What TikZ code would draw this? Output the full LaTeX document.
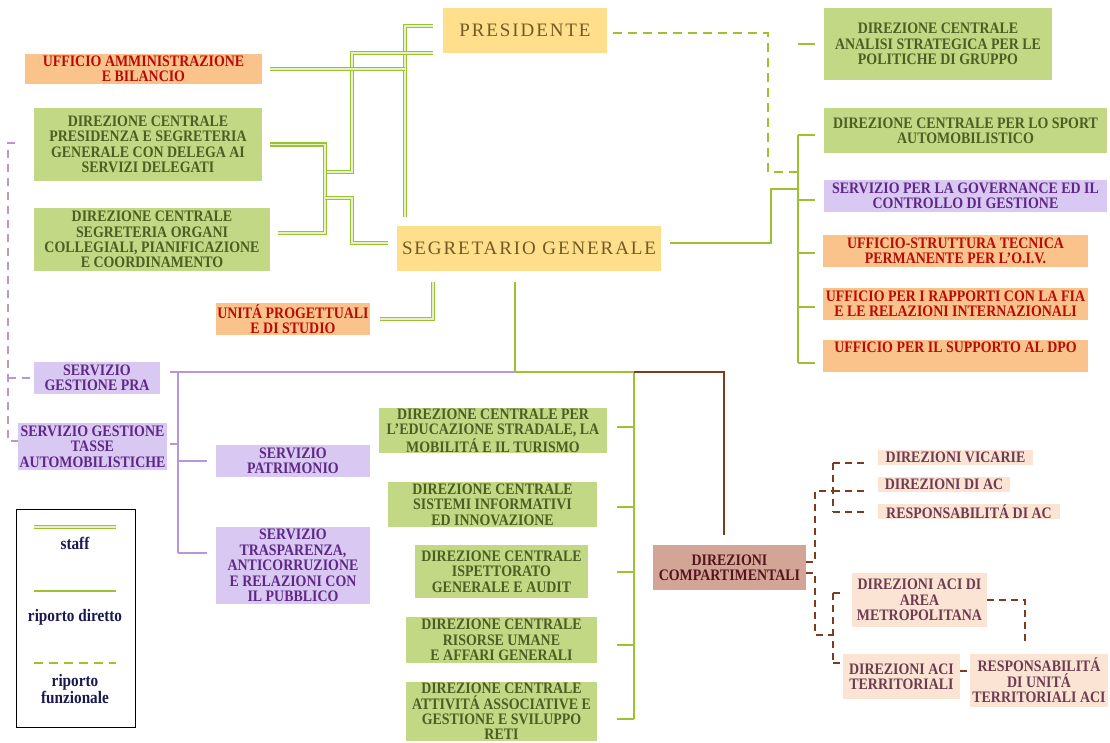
\documentclass[tikz,border=0pt]{standalone}
\usepackage{fontspec}
\setmainfont{Liberation Serif}
\newfontfamily\spacedserif[LetterSpace=10]{Liberation Serif}
\newfontfamily\boxserif[FakeStretch=0.87]{Liberation Serif}
\usetikzlibrary{calc}
\definecolor{gfill}{RGB}{195,216,132}
\definecolor{gtext}{RGB}{75,95,35}
\definecolor{ofill}{RGB}{250,195,140}
\definecolor{otext}{RGB}{185,10,10}
\definecolor{lfill}{RGB}{216,200,242}
\definecolor{ltext}{RGB}{95,40,135}
\definecolor{yfill}{RGB}{255,223,140}
\definecolor{ytext}{RGB}{115,90,35}
\definecolor{cfill}{RGB}{210,165,150}
\definecolor{ctext}{RGB}{85,20,30}
\definecolor{pfill}{RGB}{252,228,212}
\definecolor{ptext}{RGB}{110,60,80}
\definecolor{gline}{RGB}{155,195,45}
\definecolor{pline}{RGB}{185,150,215}
\definecolor{bline}{RGB}{125,60,30}
\definecolor{legtext}{RGB}{25,25,80}
\newcommand\boxfont{\boxserif\fontsize{16}{15.4}\selectfont\bfseries}
\newcommand\topfont{\spacedserif\fontsize{19}{22}\selectfont}
\newcommand\mkbox[7]{\node[#6, minimum width={#4-#2}, minimum height={#5-#3}] (#1) at ({(#2+#4)/2},{(#3+#5)/2}) {#7};}
\begin{document}
\begin{tikzpicture}[x=1pt,y=-1pt,
  bx/.style={inner sep=0pt, outer sep=0pt, align=center, font=\boxfont},
  gbox/.style={bx, fill=gfill, text=gtext},
  obox/.style={bx, fill=ofill, text=otext},
  lbox/.style={bx, fill=lfill, text=ltext},
  ybox/.style={inner sep=0pt, outer sep=0pt, fill=yfill, text=ytext, font=\topfont},
  cbox/.style={bx, fill=cfill, text=ctext},
  pbox/.style={bx, fill=pfill, text=ptext},
  staff/.style={draw=gline, line width=1.3pt, double=gline!25, double distance=1.5pt},
  direct/.style={draw=gline, line width=2.2pt},
  gdash/.style={draw=gline, line width=2.2pt, dash pattern=on 9pt off 6pt},
  purp/.style={draw=pline, line width=2pt},
  purpdash/.style={draw=pline, line width=1.8pt, dash pattern=on 8pt off 6pt},
  brn/.style={draw=bline, line width=2pt},
  bdash/.style={draw=bline, line width=2pt, dash pattern=on 7pt off 5pt},
  legtxt/.style={inner sep=0pt, align=center, text=legtext, font=\boxserif\fontsize{17.5}{17}\selectfont\bfseries}
]
\useasboundingbox (0,0) rectangle (1110,742);
\fill[white] (0,0) rectangle (1110,742);

% ---------- boxes ----------
\mkbox{pres}{443}{8}{607}{53}{ybox}{PRESIDENTE}
\mkbox{segr}{397}{226}{661}{271}{ybox}{SEGRETARIO GENERALE}
\mkbox{uff}{25}{54}{262}{84}{obox}{UFFICIO AMMINISTRAZIONE\\E BILANCIO}
\mkbox{dcpres}{34}{108}{262}{181}{gbox}{DIREZIONE CENTRALE\\PRESIDENZA E SEGRETERIA\\GENERALE CON DELEGA AI\\SERVIZI DELEGATI}
\mkbox{dcsegr}{34}{208}{270}{271}{gbox}{DIREZIONE CENTRALE\\SEGRETERIA ORGANI\\COLLEGIALI, PIANIFICAZIONE\\E COORDINAMENTO}
\mkbox{unita}{216}{303}{370}{335}{obox}{UNITÁ PROGETTUALI\\E DI STUDIO}
\mkbox{anal}{824}{8}{1052}{80}{gbox}{DIREZIONE CENTRALE\\ANALISI STRATEGICA PER LE\\POLITICHE DI GRUPPO}
\mkbox{sport}{824}{108}{1107}{153}{gbox}{DIREZIONE CENTRALE PER LO SPORT\\AUTOMOBILISTICO}
\mkbox{gov}{824}{180}{1107}{212}{lbox}{SERVIZIO PER LA GOVERNANCE ED IL\\CONTROLLO DI GESTIONE}
\mkbox{oiv}{823}{235}{1088}{267}{obox}{UFFICIO-STRUTTURA TECNICA\\PERMANENTE PER L’O.I.V.}
\mkbox{fia}{823}{288}{1088}{320}{obox}{UFFICIO PER I RAPPORTI CON LA FIA\\E LE RELAZIONI INTERNAZIONALI}
\mkbox{dpo}{823}{340}{1088}{372}{obox}{UFFICIO PER IL SUPPORTO AL DPO\\[3pt]}
\mkbox{pra}{34}{362}{160}{394}{lbox}{SERVIZIO\\GESTIONE PRA}
\mkbox{tasse}{18}{423}{167}{470}{lbox}{SERVIZIO GESTIONE\\TASSE\\AUTOMOBILISTICHE}
\mkbox{patr}{216}{445}{370}{477}{lbox}{SERVIZIO\\PATRIMONIO}
\mkbox{trasp}{216}{527}{370}{604}{lbox}{SERVIZIO\\TRASPARENZA,\\ANTICORRUZIONE\\E RELAZIONI CON\\IL PUBBLICO}
\mkbox{edu}{379}{408}{607}{453}{gbox}{DIREZIONE CENTRALE PER\\L’EDUCAZIONE STRADALE, LA\\MOBILITÁ E IL TURISMO}
\mkbox{sist}{388}{482}{597}{527}{gbox}{DIREZIONE CENTRALE\\SISTEMI INFORMATIVI\\ED INNOVAZIONE}
\mkbox{isp}{415}{545}{588}{598}{gbox}{DIREZIONE CENTRALE\\ISPETTORATO\\GENERALE E AUDIT}
\mkbox{ris}{406}{617}{597}{663}{gbox}{DIREZIONE CENTRALE\\RISORSE UMANE\\E AFFARI GENERALI}
\mkbox{att}{406}{682}{597}{741}{gbox}{DIREZIONE CENTRALE\\ATTIVITÁ ASSOCIATIVE E\\GESTIONE E SVILUPPO\\RETI}
\mkbox{comp}{653}{545}{806}{590}{cbox}{DIREZIONI\\COMPARTIMENTALI}
\mkbox{vic}{878}{450}{1033}{465}{pbox}{DIREZIONI VICARIE}
\mkbox{dac}{878}{477}{1010}{492}{pbox}{DIREZIONI DI AC}
\mkbox{rac}{878}{504}{1060}{519}{pbox}{RESPONSABILITÁ DI AC}
\mkbox{metro}{852}{573}{987}{627}{pbox}{DIREZIONI ACI DI\\AREA\\METROPOLITANA}
\mkbox{terr}{843}{654}{960}{699}{pbox}{DIREZIONI ACI\\TERRITORIALI}
\mkbox{resp}{970}{654}{1108}{707}{pbox}{RESPONSABILITÁ\\DI UNITÁ\\TERRITORIALI ACI}

% ---------- staff connectors ----------
\coordinate (a1) at (405,26);
\coordinate (a2) at (352,53);
\coordinate (a3) at (352,172);
\coordinate (a4) at (325,172);
\coordinate (a5) at (325,144.5);
\coordinate (a6) at (325,233);
\coordinate (a7) at (325,198);
\coordinate (a8) at (352,198);
\coordinate (a9) at (352,243);
\coordinate (a11) at (433,271);
\draw[staff, shorten <=10pt, shorten >=9pt] (pres.west |- a1) -- (a1) -- (a1 |- segr.north);
\draw[staff, shorten <=10pt] (pres.west |- a2) -- (a2) -- (a3) -- (a4);
\draw[staff, shorten <=8pt] (uff.east) -- (uff.east -| a1);
\draw[staff, shorten <=8pt, shorten >=8pt] (dcpres.east) -- (a5) -- (a6) -- (dcsegr.east |- a6);
\draw[staff, shorten >=9pt] (a7) -- (a8) -- (a9) -- (segr.west |- a9);
\draw[staff, shorten <=10pt, shorten >=11pt] (unita.east) -| (a11);

% ---------- direct connectors (right) ----------
\coordinate (b1) at (771,243);
\coordinate (b2) at (771,189);
\coordinate (b3) at (798,189);
\draw[direct, shorten <=9pt] ($(segr.east)+(0,-5.5)$) -- (b1) -- (b2) -- (b3);
\coordinate (r1) at (798,135);
\coordinate (r2) at (798,200);
\coordinate (r3) at (798,253);
\coordinate (r4) at (798,307);
\coordinate (r5) at (798,363);
\draw[direct] (r1) -- (r5);
\draw[direct, shorten >=9pt] (r1) -- ($(sport.west)+(0,4.5)$);
\draw[direct, shorten >=9pt] (r2) -- ($(gov.west)+(0,4)$);
\draw[direct, shorten >=8pt] (r3) -- ($(oiv.west)+(0,2)$);
\draw[direct, shorten >=8pt] (r4) -- ($(fia.west)+(0,3)$);
\draw[direct, shorten >=8pt] (r5) -- ($(dpo.west)+(0,7)$);

% ---------- green dashed from PRESIDENTE ----------
\coordinate (t1) at (768,33);
\coordinate (t2) at (768,172);
\coordinate (t3) at (798,172);
\coordinate (t4) at (798,44);
\draw[gdash, shorten <=6pt] ($(pres.east)+(0,2.5)$) -- (t1) -- (t2) -- (t3);
\draw[draw=gline, line width=2.2pt, shorten >=9pt] (t4) -- (anal.west);

% ---------- direct connectors (down) ----------
\coordinate (m1) at (515,372);
\coordinate (m2) at (634,372);
\coordinate (n1) at (634,719);
\draw[direct, shorten <=11pt] ($(segr.south)+(-14,0)$) -- (m1) -- (m2);
\draw[direct] (m2) -- (n1);
\draw[direct, shorten >=10pt] (634,427) coordinate (s1) -- ($(edu.east)+(0,-3.5)$);
\draw[direct, shorten >=20pt] (634,507) coordinate (s2) -- ($(sist.east)+(0,2.5)$);
\draw[direct, shorten >=29pt] (634,572) coordinate (s3) -- ($(isp.east)+(0,0.5)$);
\draw[direct, shorten >=20pt] (634,645) coordinate (s4) -- ($(ris.east)+(0,5)$);
\draw[direct, shorten >=20pt] (n1) -- ($(att.east)+(0,7.5)$);

% ---------- purple ----------
\coordinate (q1) at (178,372);
\coordinate (q2) at (178,553);
\coordinate (q3) at (178,461);
\draw[purp, shorten >=10pt] (m1) -- (pra.east |- m1);
\draw[purp] (q1) -- (q2);
\draw[purp, shorten >=9pt] (q3) -- (patr.west);
\draw[purp, shorten >=9pt] (q2) -- ($(trasp.west)+(0,-12.5)$);
\draw[purp, shorten <=3pt] ($(tasse.east)+(0,-2.5)$) -- ($(tasse.east -| q1)+(0,-2.5)$);

% ---------- purple dashed ----------
\coordinate (d1) at (8,143);
\coordinate (d2) at (8,441);
\draw[purpdash, shorten <=19pt] ($(dcpres.west)+(0,-1.5)$) -- (d1) -- (d2) -- ($(tasse.west)+(0,-5.5)$);
\draw[purpdash, shorten >=2pt] (d1 |- pra.west) -- (pra.west);

% ---------- brown ----------
\coordinate (k1) at (724,372);
\draw[brn, shorten >=10pt] (m2) -- (k1) -- (k1 |- comp.north);

\coordinate (e1) at (815,562);
\coordinate (e2) at (815,491);
\coordinate (e3) at (833,491);
\coordinate (f1) at (833,463);
\coordinate (f2) at (833,512);
\draw[bdash] ($(comp.east)+(0,-5.5)$) -- (e1) -- (e2) -- (e3);
\draw[bdash] (f1) -- (f2);
\draw[bdash, shorten >=10pt] (f1) -- (vic.west |- f1);
\draw[bdash, shorten >=10pt] (e3) -- (dac.west |- e3);
\draw[bdash, shorten >=10pt] (f2) -- (rac.west |- f2);

\coordinate (e4) at (815,573);
\coordinate (e5) at (815,635);
\coordinate (e6) at (833,635);
\coordinate (g1) at (833,593);
\coordinate (g2) at (833,663);
\coordinate (h1) at (1025,600);
\draw[bdash] ($(comp.east)+(0,5.5)$) -- (e4) -- (e5) -- (e6);
\draw[bdash] (g1) -- (g2);
\draw[bdash, shorten >=10pt] (g1) -- (metro.west |- g1);
\draw[bdash] (g2) -- (terr.west |- g2);
\draw[bdash, shorten >=11pt] (metro.east) -- (h1) -- (h1 |- resp.north);
\draw[bdash] ($(terr.east)+(0,-5.5)$) -- ($(resp.west)+(0,-9.5)$);

% ---------- legend ----------
\node[draw=black, line width=0.8pt, inner sep=0pt, minimum width=119, minimum height=218] (leg) at (75.5,618) {};
\coordinate (L1a) at (34,527);
\coordinate (L1b) at (116,527);
\coordinate (L2a) at (34,591);
\coordinate (L2b) at (116,591);
\coordinate (L3a) at (34,663);
\coordinate (L3b) at (116,663);
\draw[staff] (L1a) -- (L1b);
\draw[direct] (L2a) -- (L2b);
\draw[gdash] (L3a) -- (L3b);
\node[legtxt] (lstaff) at (75,543) {staff};
\node[legtxt] (ldir) at (75,617) {riporto diretto};
\node[legtxt] (lfun) at (75,689) {riporto\\funzionale};
\end{tikzpicture}
\end{document}
